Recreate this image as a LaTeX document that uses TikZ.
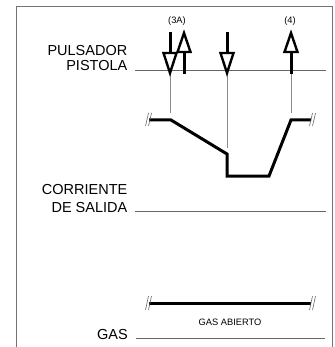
\documentclass[tikz,border=0pt]{standalone}
\usepackage{fontspec}
\setmainfont{Liberation Sans}
\begin{document}
\begin{tikzpicture}[x=1pt,y=-1pt,
  frame/.style={draw=black!55,line width=1pt},
  axis/.style={draw=black!60,line width=0.9pt},
  guide/.style={draw=black!45,line width=0.8pt},
  sig/.style={draw=black,line width=3pt,line join=miter},
  shaft/.style={draw=black,line width=3pt},
  head/.style={draw=black,line width=2.4pt,fill=white,line join=miter},
  brk/.style={draw=black!60,line width=0.6pt},
  big/.style={font=\fontsize{14.5}{16}\selectfont,inner sep=0pt,anchor=base east,align=right},
  small/.style={font=\fontsize{9.3}{11}\selectfont,inner sep=0pt,anchor=base}]
\useasboundingbox (0,0) rectangle (334,347);
% frame
\draw[frame] (16,347) -- (16,7) -- (332,7) -- (332,347);
% labels
\node[big] (pul) at (127.5,56) {PULSADOR};
\node[big] (pis) at (127.5,71) {PISTOLA};
\node[big] (cor) at (127.5,194) {CORRIENTE};
\node[big] (sal) at (127.5,212) {DE SALIDA};
\node[big] (gas) at (128,339) {GAS};
% axis lines
\draw[axis] (135,70) -- (326,70);
\draw[axis] (135,211) -- (326,211);
\draw[axis] (136,338) -- (325,338);
% small labels
\node[small] (l3a) at (177,24) {(3A)};
\node[small] (l4) at (290,24) {(4)};
\node[small] (gab) at (230,325) {GAS ABIERTO};
% guides
\draw[guide] (170,74) -- (170,113);
\draw[guide] (227,74) -- (227,148);
\draw[guide] (291,74) -- (291,113);
% arrows
% 1 down
\draw[shaft] (170,32) -- (170,53);
\draw[head] (163.5,53) -- (176.5,53) -- (170,73) -- cycle;
% 2 up
\draw[shaft] (184,74) -- (184,52);
\draw[head] (177.5,52) -- (190.5,52) -- (184,33) -- cycle;
% 3 down
\draw[shaft] (227,32) -- (227,53);
\draw[head] (220.5,53) -- (233.5,53) -- (227,73) -- cycle;
% 4 up
\draw[shaft] (291,74) -- (291,52);
\draw[head] (284.5,52) -- (297.5,52) -- (291,33) -- cycle;
% current waveform
\draw[sig] (149,120) -- (171,120) -- (227,154) -- (227,176) -- (269,176) -- (291,120) -- (311,120);
\draw[brk] (145.5,126) -- (148.5,113) (148.5,126) -- (151.5,113);
\draw[brk] (309.5,126) -- (312.5,113) (312.5,126) -- (315.5,113);
% gas
\draw[sig] (149,303) -- (311,303);
\draw[brk] (145.5,310) -- (148.5,296) (148.5,310) -- (151.5,296);
\draw[brk] (309.5,310) -- (312.5,296) (312.5,310) -- (315.5,296);
\end{tikzpicture}
\end{document}
